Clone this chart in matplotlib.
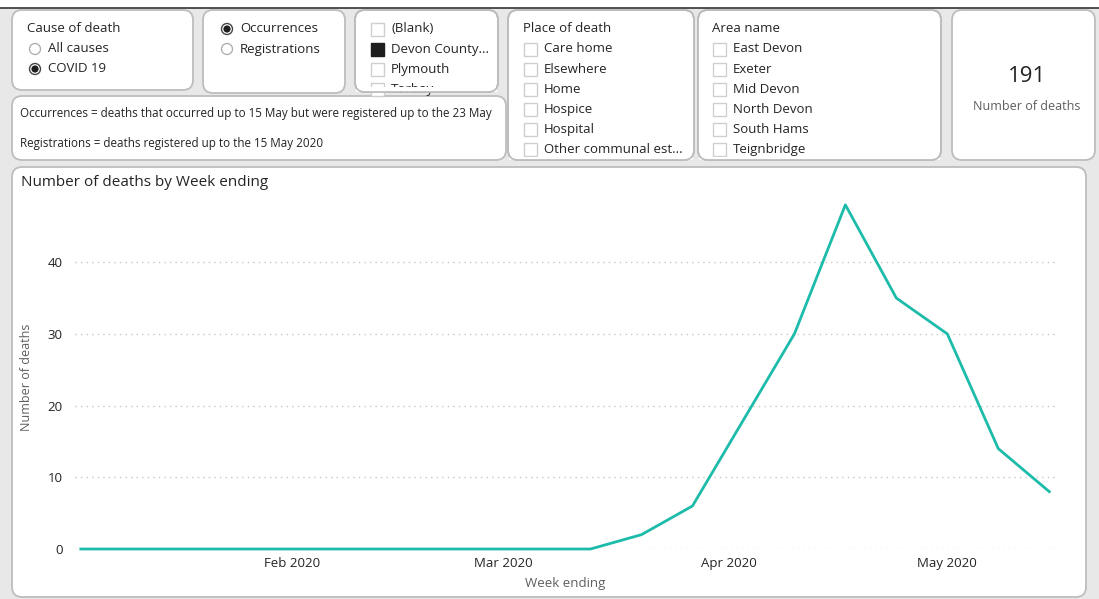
import matplotlib
matplotlib.use("Agg")
import matplotlib.pyplot as plt
import matplotlib.dates as mdates
from matplotlib.patches import FancyBboxPatch, Circle, Rectangle
import datetime as dt

plt.rcParams['font.family'] = ['Open Sans', 'DejaVu Sans']

# weekly deaths (week ending Friday), COVID 19, Devon County
week_start = dt.date(2020, 1, 3)
weeks = [week_start + dt.timedelta(days=7 * i) for i in range(20)]
deaths = [0, 0, 0, 0, 0, 0, 0, 0, 0, 0, 0, 2, 6, 18, 30, 48, 35, 30, 14, 8]
total_deaths = 191

cause_items = ["All causes", "COVID 19"]
type_items = ["Occurrences", "Registrations"]
county_items = ["(Blank)", "Devon County...", "Plymouth", "Torbay"]
place_items = ["Care home", "Elsewhere", "Home", "Hospice", "Hospital", "Other communal est..."]
area_items = ["East Devon", "Exeter", "Mid Devon", "North Devon", "South Hams", "Teignbridge"]
note_lines = ["Occurrences = deaths that occurred up to 15 May but were registered up to the 23 May",
              "Registrations = deaths registered up to the 15 May 2020"]

W, H = 1099, 599
TXT = '#252423'
GREY = '#605E5C'
LINE = '#1CBBAA'

fig = plt.figure(figsize=(W / 100, H / 100), dpi=100)
fig.patch.set_facecolor('#E8E8E8')

# page layer in pixel coordinates
bg = fig.add_axes([0, 0, 1, 1])
bg.set_xlim(0, W)
bg.set_ylim(H, 0)
bg.axis('off')

bg.add_patch(Rectangle((0, 0), W, 7, color='white', zorder=0))
bg.plot([0, W], [7.5, 7.5], color='#333333', lw=1.2)


def panel(x0, y0, x1, y1, cut=None):
    p = FancyBboxPatch((x0, y0), x1 - x0, y1 - y0,
                       boxstyle="round,pad=0,rounding_size=10",
                       fc='white', ec='#BDBDBD', lw=1.3, zorder=1)
    bg.add_patch(p)
    if cut is not None:
        # hide list items that run past the bottom of the slicer
        bg.add_patch(Rectangle((x0 + 1, cut), x1 - x0 - 2, y1 - cut - 0.5,
                               fc='white', ec='none', zorder=6))
        bg.add_patch(FancyBboxPatch((x0, y0), x1 - x0, y1 - y0,
                                    boxstyle="round,pad=0,rounding_size=10",
                                    fc='none', ec='#BDBDBD', lw=1.3, zorder=7))
    return p


def radio(x, y, on):
    bg.add_patch(Circle((x, y), 5.5, fc='white', ec='#444444' if on else '#B0B0B0', lw=1, zorder=3))
    if on:
        bg.add_patch(Circle((x, y), 3.6, fc='#1E1E1E', ec='none', zorder=4))


def check(x, y, on):
    bg.add_patch(Rectangle((x - 6.5, y - 6.5), 13, 13, fc='#1E1E1E' if on else 'white',
                           ec='#1E1E1E' if on else '#CFCFCF', lw=1, zorder=3))


# cause of death
panel(12, 10, 193, 90)
bg.text(27, 28, "Cause of death", fontsize=9.5, color=TXT, va='center', zorder=5)
for i, lab in enumerate(cause_items):
    yy = 49 + 20 * i
    radio(35, yy, lab == "COVID 19")
    bg.text(48, yy, lab, fontsize=9.5, color=TXT, va='center', zorder=5)

# occurrences / registrations
panel(203, 10, 345, 93)
for i, lab in enumerate(type_items):
    yy = 29 + 20 * i
    radio(227, yy, lab == "Occurrences")
    bg.text(240, yy, lab, fontsize=9.5, color=TXT, va='center', zorder=5)

# county
panel(355, 10, 498, 92, cut=87)
for i, lab in enumerate(county_items):
    yy = 29 + 20.2 * i
    check(377, yy, lab.startswith("Devon"))
    bg.text(391, yy, lab, fontsize=9.5, color=TXT, va='center', zorder=5)

# notes
panel(12, 96, 506, 160)
bg.text(20, 113, note_lines[0], fontsize=8.4, color=TXT, va='center', zorder=5)
bg.text(20, 144, note_lines[1], fontsize=8.4, color=TXT, va='center', zorder=5)

# place of death
panel(508, 10, 694, 160, cut=157)
bg.text(523, 28, "Place of death", fontsize=9.5, color=TXT, va='center', zorder=5)
for i, lab in enumerate(place_items):
    yy = 49 + 20.1 * i
    check(530, yy, False)
    bg.text(544, yy, lab, fontsize=9.5, color=TXT, va='center', zorder=5)

# area name
panel(698, 10, 941, 160, cut=157)
bg.text(712, 28, "Area name", fontsize=9.5, color=TXT, va='center', zorder=5)
for i, lab in enumerate(area_items):
    yy = 49 + 20.1 * i
    check(719, yy, False)
    bg.text(733, yy, lab, fontsize=9.5, color=TXT, va='center', zorder=5)

# card
panel(952, 10, 1095, 160)
bg.text(1027, 77, str(total_deaths), fontsize=16, color=TXT, ha='center', va='center', zorder=5)
bg.text(1027, 106, "Number of deaths", fontsize=9, color=GREY, ha='center', va='center', zorder=5)

# chart panel
panel(12, 167, 1086, 597)
bg.text(21, 183, "Number of deaths by Week ending", fontsize=11, color=TXT, va='center', zorder=5)
bg.text(27, 377, "Number of deaths", fontsize=9, color=GREY, rotation=90, ha='center', va='center', zorder=5)
bg.text(565, 583, "Week ending", fontsize=9.5, color=GREY, ha='center', va='center', zorder=5)

# line chart
left, right, y0px, y50px = 75, 1058, 549, 190.5
ax = fig.add_axes([left / W, 1 - y0px / H, (right - left) / W, (y0px - y50px) / H])
ax.patch.set_alpha(0)
ax.plot(weeks, deaths, color=LINE, lw=2.0, clip_on=False, zorder=3, solid_joinstyle='round')
ax.set_ylim(0, 50)
ax.set_xlim(mdates.date2num(week_start) - 0.8, mdates.date2num(weeks[-1]) + 1.2)
ax.set_yticks([0, 10, 20, 30, 40])
ax.xaxis.set_major_locator(mdates.MonthLocator(bymonth=[2, 3, 4, 5]))
ax.xaxis.set_major_formatter(mdates.DateFormatter('%b %Y'))
for s in ax.spines.values():
    s.set_visible(False)
ax.tick_params(length=0, labelsize=9.5, labelcolor=TXT)
ax.tick_params(axis='y', pad=9)
ax.tick_params(axis='x', pad=6)
ax.grid(axis='y', color='#C8C8C8', linestyle=(0, (1, 3)), lw=1)
ax.set_axisbelow(True)

fig.savefig("out.png", dpi=100, facecolor=fig.get_facecolor())
